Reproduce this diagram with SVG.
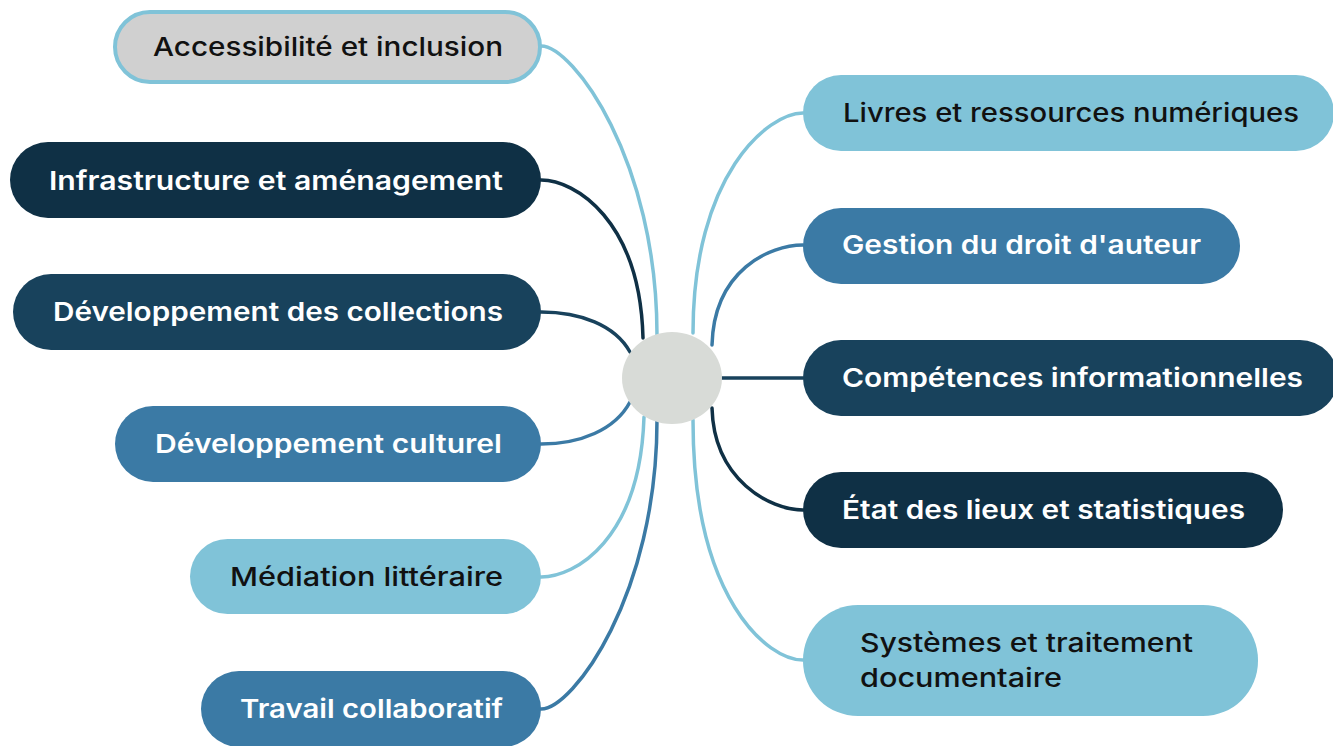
<svg xmlns="http://www.w3.org/2000/svg" width="1333" height="746" viewBox="0 0 1333 746">
<style>
.t{font-family:Inter,"Open Sans","Liberation Sans",sans-serif;font-size:26px}
.w{fill:#ffffff;font-weight:600}
.b{fill:#111111;font-weight:500}
.c{fill:none;stroke-width:3.5;stroke-linecap:round}
.lb{fill:#80c3d8}.mb{fill:#3b7aa5}.db{fill:#18425c}.xb{fill:#0f3045}
</style>
<rect width="1333" height="746" fill="#ffffff"/>
<g id="connectors" class="c">
<path d="M541,46 C573,46 657,160 657,335" stroke="#80c3d8"/>
<path d="M541,180 C575,180 640,220 643,338" stroke="#0f3045"/>
<path d="M541,312 C580,312 615,325 630,352" stroke="#18425c"/>
<path d="M541,444 C580,444 615,430 630,402" stroke="#3b7aa5"/>
<path d="M541,577 C575,577 640,540 644,417" stroke="#80c3d8"/>
<path d="M541,709 C573,709 657,595 657,420" stroke="#3b7aa5"/>
<path d="M803,113 C768,113 693,175 693,333" stroke="#80c3d8"/>
<path d="M803,245 C770,245 714,270 712,345" stroke="#3b7aa5"/>
<path d="M722,378 L803,378" stroke="#18425c"/>
<path d="M803,510 C770,510 714,480 712,408" stroke="#0f3045"/>
<path d="M803,660 C768,660 693,600 693,420" stroke="#80c3d8"/>
</g>
<g id="center"><ellipse cx="672" cy="378" rx="50" ry="46" fill="#d8dbd7"/></g>
<g id="n-accessibilite">
<rect x="115" y="12" width="425" height="70" rx="35" fill="#d0d0d0" stroke="#80c3d8" stroke-width="4"/>
<text class="t b" x="503" y="56" text-anchor="end" textLength="350" lengthAdjust="spacingAndGlyphs">Accessibilité et inclusion</text>
</g>
<g id="n-infrastructure">
<rect class="xb" x="10" y="142" width="531" height="76" rx="38"/>
<text class="t w" x="503" y="190" text-anchor="end" textLength="454" lengthAdjust="spacingAndGlyphs">Infrastructure et aménagement</text>
</g>
<g id="n-collections">
<rect class="db" x="13" y="274" width="528" height="76" rx="38"/>
<text class="t w" x="503" y="321" text-anchor="end" textLength="450" lengthAdjust="spacingAndGlyphs">Développement des collections</text>
</g>
<g id="n-culturel">
<rect class="mb" x="115" y="406" width="426" height="76" rx="38"/>
<text class="t w" x="502" y="453" text-anchor="end" textLength="347" lengthAdjust="spacingAndGlyphs">Développement culturel</text>
</g>
<g id="n-mediation">
<rect class="lb" x="190" y="539" width="351" height="75" rx="37.5"/>
<text class="t b" x="503" y="586" text-anchor="end" textLength="273" lengthAdjust="spacingAndGlyphs">Médiation littéraire</text>
</g>
<g id="n-travail">
<rect class="mb" x="201" y="671" width="340" height="76" rx="38"/>
<text class="t w" x="503" y="718" text-anchor="end" textLength="263" lengthAdjust="spacingAndGlyphs">Travail collaboratif</text>
</g>
<g id="n-livres">
<rect class="lb" x="803" y="75" width="531" height="76" rx="38"/>
<text class="t b" x="843" y="122" textLength="456" lengthAdjust="spacingAndGlyphs">Livres et ressources numériques</text>
</g>
<g id="n-droit">
<rect class="mb" x="803" y="208" width="437" height="76" rx="38"/>
<text class="t w" x="842" y="254" textLength="359" lengthAdjust="spacingAndGlyphs">Gestion du droit d'auteur</text>
</g>
<g id="n-competences">
<rect class="db" x="803" y="340" width="535" height="76" rx="38"/>
<text class="t w" x="842" y="387" textLength="461" lengthAdjust="spacingAndGlyphs">Compétences informationnelles</text>
</g>
<g id="n-etat">
<rect class="xb" x="803" y="472" width="480" height="76" rx="38"/>
<text class="t w" x="842" y="519" textLength="403" lengthAdjust="spacingAndGlyphs">État des lieux et statistiques</text>
</g>
<g id="n-systemes">
<rect class="lb" x="803" y="605" width="455" height="111" rx="55"/>
<text class="t b" x="860" y="652" textLength="333" lengthAdjust="spacingAndGlyphs">Systèmes et traitement</text>
<text class="t b" x="860" y="687" textLength="202" lengthAdjust="spacingAndGlyphs">documentaire</text>
</g>
</svg>
